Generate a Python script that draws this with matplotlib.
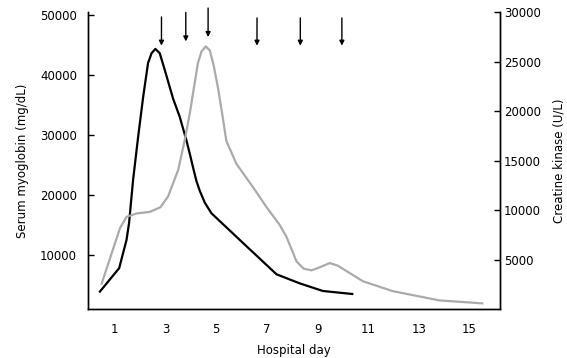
import matplotlib
matplotlib.use("Agg")
import matplotlib.pyplot as plt

plt.rcParams['font.family'] = ['DejaVu Sans']

# serum myoglobin (left axis)
mb_day = [0.41, 1.17, 1.46, 1.56, 1.72, 1.92, 2.12, 2.31, 2.45, 2.6, 2.77, 2.97,
          3.3, 3.56, 3.83, 3.96, 4.09, 4.22, 4.35, 4.55, 4.81, 5.93, 7.38, 8.29,
          9.21, 10.37]
mb_val = [3900, 7800, 12500, 15300, 22500, 29700, 36400, 41950, 43600, 44300, 43600, 40800,
          36000, 33000, 29000, 26800, 24500, 22300, 20700, 18700, 16950, 12500, 6780, 5280,
          4000, 3500]

# creatine kinase (right axis)
ck_day = [0.48, 1.2, 1.46, 1.86, 2.38, 2.8, 3.1, 3.5, 3.76, 3.96, 4.15, 4.28, 4.42,
          4.59, 4.75, 4.9, 5.07, 5.25, 5.4, 5.8, 6.45, 6.98, 7.51, 7.77, 8.17, 8.45,
          8.76, 9.1, 9.48, 9.8, 10.79, 11.97, 13.8, 15.5]
ck_val = [2600, 8170, 9330, 9670, 9830, 10300, 11380, 14070, 17100, 19800, 22830, 24850, 26020,
          26530, 26100, 24600, 22350, 19500, 17000, 14670, 12330, 10330, 8500, 7330, 4830, 4100,
          3930, 4250, 4670, 4400, 2830, 1830, 900, 600]

# arrows (hospital days), in CK axis units
arrow_day = [2.84, 3.80, 4.68, 6.61, 8.32, 9.96]
arrow_top = [29500, 29960, 30400, 29400, 29400, 29400]
arrow_tip = [26600, 27030, 27470, 26600, 26600, 26600]

x_ticks = [1, 3, 5, 7, 9, 11, 13, 15]
left_ticks = [10000, 20000, 30000, 40000, 50000]
right_ticks = [5000, 10000, 15000, 20000, 25000, 30000]

fig = plt.figure(figsize=(5.67, 3.58), dpi=100)
ax = fig.add_axes([0.1552, 0.1377, 0.7266, 0.8288])
ax2 = ax.twinx()

ax.plot(mb_day, mb_val, color='black', lw=1.6, solid_joinstyle='round')
ax2.plot(ck_day, ck_val, color='#aaaaaa', lw=1.6, solid_joinstyle='round')

ax.set_xlim(-0.06, 16.2)
ax.set_ylim(1050, 50450)
ax2.set_ylim(60, 30000)

for a in (ax, ax2):
    a.spines['top'].set_visible(False)
    for s in a.spines.values():
        s.set_linewidth(1.0)

ax.set_xticks(x_ticks)
ax.set_yticks(left_ticks)
ax2.set_yticks(right_ticks)
ax.tick_params(axis='x', length=0, pad=10, labelsize=8.5)
ax.tick_params(axis='y', direction='in', length=4, width=1, pad=8, labelsize=8.5)
ax2.tick_params(axis='y', direction='in', length=4, width=1, pad=3, labelsize=8.5)

ax.set_xlabel('Hospital day', fontsize=8.5, labelpad=6)
ax.set_ylabel('Serum myoglobin (mg/dL)', fontsize=8.5, labelpad=8)
ax2.set_ylabel('Creatine kinase (U/L)', fontsize=8.5, labelpad=8)

for d, t, h in zip(arrow_day, arrow_top, arrow_tip):
    ax2.annotate('', xy=(d, h), xytext=(d, t), annotation_clip=False,
                 arrowprops=dict(arrowstyle='-|>', color='black', lw=1.0,
                                 mutation_scale=7, shrinkA=0, shrinkB=0))

fig.savefig('out.png', dpi=100)
